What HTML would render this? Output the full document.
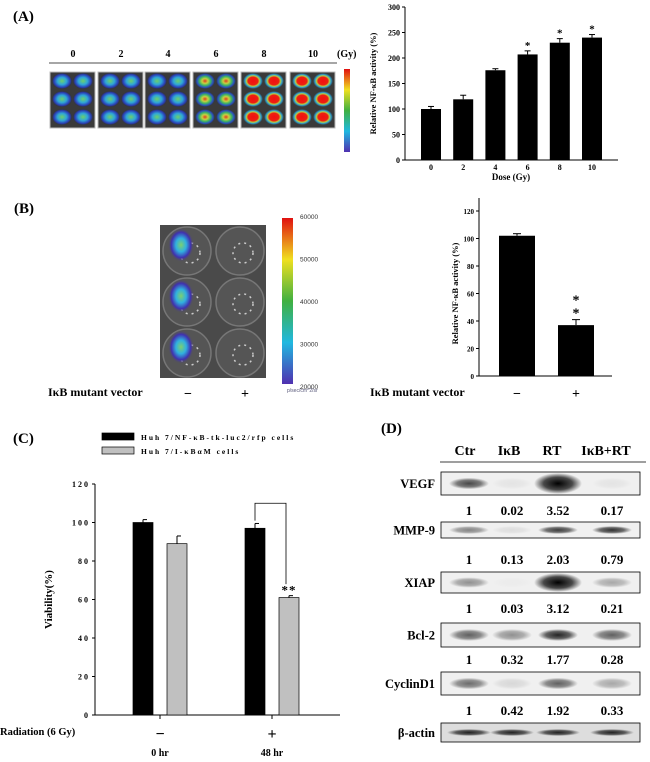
<!DOCTYPE html>
<html><head><meta charset="utf-8">
<style>
html,body{margin:0;padding:0;background:#fff;}
svg{display:block;font-family:"Liberation Serif",serif;}
</style></head>
<body>
<svg id="fig" width="650" height="762" viewBox="0 0 650 762" xmlns="http://www.w3.org/2000/svg">
<defs>
<radialGradient id="wellLow" cx="50%" cy="50%" r="50%"><stop offset="0" stop-color="#6ccf6a"/><stop offset="0.45" stop-color="#2fa8d8"/><stop offset="0.8" stop-color="#2a3fb8"/><stop offset="1" stop-color="#333"/></radialGradient>
<radialGradient id="wellMid" cx="50%" cy="50%" r="50%"><stop offset="0" stop-color="#e03a20"/><stop offset="0.3" stop-color="#c8d040"/><stop offset="0.55" stop-color="#40b860"/><stop offset="0.8" stop-color="#2a50c0"/><stop offset="1" stop-color="#333"/></radialGradient>
<radialGradient id="wellHigh" cx="50%" cy="50%" r="50%"><stop offset="0" stop-color="#f01010"/><stop offset="0.5" stop-color="#ee2010"/><stop offset="0.65" stop-color="#b8d040"/><stop offset="0.8" stop-color="#30a0d0"/><stop offset="1" stop-color="#333"/></radialGradient>
<radialGradient id="wellB" cx="50%" cy="50%" r="50%"><stop offset="0" stop-color="#7cd070"/><stop offset="0.4" stop-color="#30b0e0"/><stop offset="0.75" stop-color="#4030b0"/><stop offset="1" stop-color="#555" stop-opacity="0"/></radialGradient>
<linearGradient id="cbar" x1="0" y1="0" x2="0" y2="1"><stop offset="0" stop-color="#e01010"/><stop offset="0.25" stop-color="#f0e020"/><stop offset="0.5" stop-color="#40b040"/><stop offset="0.75" stop-color="#20b8e0"/><stop offset="1" stop-color="#5030b0"/></linearGradient>
<radialGradient id="band" cx="50%" cy="50%" r="50%"><stop offset="0" stop-color="#000"/><stop offset="0.6" stop-color="#000" stop-opacity="0.7"/><stop offset="1" stop-color="#000" stop-opacity="0"/></radialGradient>
</defs>
<g id="root"></g>
</svg>
<script>
// Panel A data
const doseCats = ["0","2","4","6","8","10"];
const doseVals = [100, 119, 176, 207, 230, 240];
const doseErr = [5, 8, 3, 7, 8, 6];
const doseSig = ["","","","*","*","*"];
const doseTicks = [0,50,100,150,200,250,300];
// Panel B data
const mutCats = ["\u2212","+"];
const mutVals = [102, 37];
const mutErr = [1.5, 4];
const mutTicks = [0,20,40,60,80,100,120];
// Panel C data
const radCats = ["\u2212","+"];
const radSub = ["0 hr","48 hr"];
const seriesNames = ["Huh 7/NF-\u03baB-tk-luc2/rfp cells","Huh 7/I-\u03baB\u03b1M cells"];
const viabBlack = [100, 97];
const viabGray = [89, 61];
const errBlack = [1.5, 2.5];
const errGray = [4, 1];
const viabTicks = [0,20,40,60,80,100,120];
// Panel D data
const laneNames = ["Ctr","I\u03baB","RT","I\u03baB+RT"];
const proteins = ["VEGF","MMP-9","XIAP","Bcl-2","CyclinD1"];
const quant = [["1","0.02","3.52","0.17"],["1","0.13","2.03","0.79"],["1","0.03","3.12","0.21"],["1","0.32","1.77","0.28"],["1","0.42","1.92","0.33"]];
const bandLevels = [[0.7,0.05,1,0.05],[0.45,0.08,0.75,0.8],[0.4,0.02,1,0.3],[0.6,0.4,0.85,0.6],[0.55,0.1,0.6,0.3]];

const NS="http://www.w3.org/2000/svg";
const root=document.getElementById('root');
function el(tag,attrs,parent,text){const e=document.createElementNS(NS,tag);for(const k in attrs)e.setAttribute(k,attrs[k]);if(text!==undefined)e.textContent=text;(parent||root).appendChild(e);return e;}

// ---------- Panel A ----------
let t=el('text',{x:13,y:21,'font-size':15,'font-weight':'bold'},root,'(A)');

const blockX=[50,98,145,193,241,290];
const blockGrad=['wellLow','wellLow','wellLow','wellMid','wellHigh','wellHigh'];
doseCats.forEach((c,i)=>{
  let lt=el('text',{x:blockX[i]+23,y:57,'font-size':10,'font-weight':'bold','text-anchor':'middle'},root,c);
  
  let g=el('g',{});
  
  el('rect',{x:blockX[i],y:72,width:45,height:56,fill:'#3a3a3a',stroke:'#bbb','stroke-width':1},g);
  for(let r=0;r<3;r++)for(let k=0;k<2;k++){
    el('ellipse',{cx:blockX[i]+12+k*21,cy:81+r*18,rx:10,ry:8,fill:'url(#'+blockGrad[i]+')'},g);
  }
});
t=el('text',{x:337,y:57,'font-size':10,'font-weight':'bold'},root,'(Gy)');

t=el('line',{x1:49,y1:63,x2:337,y2:63,stroke:'#888','stroke-width':1.5});

t=el('rect',{x:344,y:69,width:6,height:83,fill:'url(#cbar)'});


function barChart(o){
  const g=el('g',{});
  
  const ys=v=>o.y0-(v-o.min)/(o.max-o.min)*(o.y0-o.y1);
  let ax=el('line',{x1:o.x0,y1:o.axTop,x2:o.x0,y2:o.y0,stroke:'#000','stroke-width':1},g);
  
  ax=el('line',{x1:o.x0,y1:o.y0,x2:o.x1,y2:o.y0,stroke:'#000','stroke-width':1},g);
  
  o.ticks.forEach(v=>{
    el('line',{x1:o.x0-3,y1:ys(v),x2:o.x0,y2:ys(v),stroke:'#000'},g);
    const tl=el('text',{x:o.x0-5,y:ys(v)+3,'font-size':o.tickFont,'font-weight':'bold','text-anchor':'end','letter-spacing':o.ls||0},g,String(v));
    
  });
  const yt=el('text',{transform:`translate(${o.ytx},${(o.y0+o.y1)/2}) rotate(-90)`,'font-size':o.ytFont,'font-weight':'bold','text-anchor':'middle'},g,o.ytitle);
  
  return {g,ys};
}

// Panel A chart
{
  const o={name:'dose-bar-chart',x0:405,x1:618,y0:160,y1:7,axTop:7,min:0,max:300,ticks:doseTicks,tickFont:8,ytx:376,ytFont:8.5,ytitle:'Relative NF-\u03baB activity (%)'};
  const {g,ys}=barChart(o);
  doseCats.forEach((c,i)=>{
    const cx=o.x0+26+i*32.2;
    const b=el('rect',{x:cx-10,y:ys(doseVals[i]),width:20,height:o.y0-ys(doseVals[i]),fill:'#000'},g);
    
    const ey=ys(doseVals[i]+doseErr[i]);
    el('line',{x1:cx,y1:ys(doseVals[i]),x2:cx,y2:ey,stroke:'#000'},g);
    el('line',{x1:cx-3,y1:ey,x2:cx+3,y2:ey,stroke:'#000'},g);
    if(doseSig[i]){const s=el('text',{x:cx,y:ey-2,'font-size':11,'font-weight':'bold','text-anchor':'middle'},g,doseSig[i]);}
    const xl=el('text',{x:cx,y:170,'font-size':8,'font-weight':'bold','text-anchor':'middle'},g,c);
    
  });
  const xt=el('text',{x:511,y:180,'font-size':9,'font-weight':'bold','text-anchor':'middle'},g,'Dose (Gy)');
  
}

// ---------- Panel B ----------
t=el('text',{x:14,y:213,'font-size':15,'font-weight':'bold'},root,'(B)');

{
  const g=el('g',{});
  el('rect',{x:160,y:225,width:106,height:153,fill:'#4a4a4a'},g);
  for(let r=0;r<3;r++)for(let k=0;k<2;k++){
    el('circle',{cx:187+k*53,cy:251+r*51,r:24,fill:'#555',stroke:'#777','stroke-width':1.5},g);
    el('circle',{cx:190+k*53,cy:253+r*51,r:10,fill:'none',stroke:'#ccc','stroke-width':1.5,'stroke-dasharray':'2 4'},g);
  }
  for(let r=0;r<3;r++) el('ellipse',{cx:181,cy:245+r*51,rx:13,ry:17,fill:'url(#wellB)'},g);
  const cb=el('rect',{x:282,y:218,width:11,height:166,fill:'url(#cbar)'});
  
  ["60000","50000","40000","30000","20000"].forEach((s,i)=>{
    const l=el('text',{x:300,y:219+i*42.5,'font-size':6.5,fill:'#333','font-family':'Liberation Sans'},root,s);
    
  });
  const u=el('text',{x:287,y:392,'font-size':5,fill:'#557','font-family':'Liberation Sans'},root,'p/sec/cm^2/sr');
  
}
t=el('text',{x:48,y:396,'font-size':12,'font-weight':'bold'},root,'I\u03baB mutant vector');

t=el('text',{x:188,y:398,'font-size':14,'font-weight':'bold','text-anchor':'middle'},root,'\u2212');

t=el('text',{x:245,y:398,'font-size':14,'font-weight':'bold','text-anchor':'middle'},root,'+');

{
  const o={name:'mutant-bar-chart',x0:479,x1:612,y0:376,y1:211,axTop:198,min:0,max:120,ticks:mutTicks,tickFont:7,ytx:458,ytFont:8.5,ytitle:'Relative NF-\u03baB activity (%)'};
  const {g,ys}=barChart(o);
  const cxs=[517,576];
  mutCats.forEach((c,i)=>{
    const cx=cxs[i];
    const b=el('rect',{x:cx-18,y:ys(mutVals[i]),width:36,height:o.y0-ys(mutVals[i]),fill:'#000'},g);
    
    const ey=ys(mutVals[i]+mutErr[i]);
    el('line',{x1:cx,y1:ys(mutVals[i]),x2:cx,y2:ey,stroke:'#000'},g);
    el('line',{x1:cx-4,y1:ey,x2:cx+4,y2:ey,stroke:'#000'},g);
    const xl=el('text',{x:cx,y:398,'font-size':14,'font-weight':'bold','text-anchor':'middle'},g,c);
    
  });
  const sy=ys(mutVals[1]+mutErr[1]);
  const s=el('text',{x:576,y:sy-15,'font-size':14,'font-weight':'bold','text-anchor':'middle'},g,'*');
  
  const s2=el('text',{x:576,y:sy-2,'font-size':14,'font-weight':'bold','text-anchor':'middle'},g,'*');
  
  const vl=el('text',{x:370,y:396,'font-size':12,'font-weight':'bold'},root,'I\u03baB mutant vector');
  
}

// ---------- Panel C ----------
t=el('text',{x:13,y:443,'font-size':15,'font-weight':'bold'},root,'(C)');

{
  const lg=el('g',{});
  const fills=['#000','#c0c0c0'];
  seriesNames.forEach((s,i)=>{
    const e=el('g',{},lg);
    el('rect',{x:102,y:433+i*14,width:32,height:7,fill:fills[i],stroke:'#000','stroke-width':0.7},e);
    el('text',{x:141,y:440+i*14,'font-size':7.5,'font-weight':'bold','letter-spacing':2},e,s);
  });
  const o={name:'viability-bar-chart',x0:95,x1:340,y0:715,y1:484,axTop:484,min:0,max:120,ticks:viabTicks,tickFont:8,ytx:52,ytFont:11,ytitle:'Viability(%)',ls:2};
  const {g,ys}=barChart(o);
  const centers=[160,272];
  radCats.forEach((c,i)=>{
    const cx=centers[i];
    [[viabBlack,errBlack,'#000',-17,'bar-huh7-nfkb-'],[viabGray,errGray,'#c0c0c0',17,'bar-huh7-ikbam-']].forEach(([vals,errs,f,off,nm])=>{
      const x=cx+off;
      const b=el('rect',{x:x-10,y:ys(vals[i]),width:20,height:o.y0-ys(vals[i]),fill:f,stroke:'#000','stroke-width':0.7},g);
      
      const ey=ys(vals[i]+errs[i]);
      el('line',{x1:x,y1:ys(vals[i]),x2:x,y2:ey,stroke:'#000'},g);
      el('line',{x1:x,y1:ey,x2:x+4,y2:ey,stroke:'#000'},g);
    });
    el('line',{x1:cx,y1:715,x2:cx,y2:719,stroke:'#000'},g);
    const xl=el('text',{x:cx,y:739,'font-size':16,'font-weight':'bold','text-anchor':'middle'},g,c);
    
    const sl=el('text',{x:cx,y:756,'font-size':10,'font-weight':'bold','text-anchor':'middle'},g,radSub[i]);
    
  });
  const br=el('path',{d:`M255 ${ys(101)} V${ys(110)} H286 V${ys(68)}`,fill:'none',stroke:'#000','stroke-width':0.8},g);
  
  const st=el('text',{x:289,y:ys(62)-1,'font-size':13,'font-weight':'bold','text-anchor':'middle','letter-spacing':1},g,'**');
  
  const rl=el('text',{x:0,y:735,'font-size':10.5,'font-weight':'bold'},root,'Radiation (6 Gy)');
  
}

// ---------- Panel D ----------
t=el('text',{x:381,y:433,'font-size':15,'font-weight':'bold'},root,'(D)');

{
  const laneX=[469,512,558,612];
  const headX=[465,509,552,606];
  laneNames.forEach((n,i)=>{
    const l=el('text',{x:headX[i],y:455,'font-size':14,'font-weight':'bold','text-anchor':'middle'},root,n);
    
  });
  t=el('line',{x1:440,y1:462,x2:646,y2:462,stroke:'#666','stroke-width':1.2});
  
  const boxY=[472,522,572,623,672];
  const boxH=[23,16,21,24,23];
  const numY=[515,564,613,664,715];
  proteins.forEach((p,r)=>{
    const g=el('g',{});
    const y=boxY[r],h=boxH[r];
    el('rect',{x:441,y:y,width:199,height:h,fill:'#f0f0f0',stroke:'#000','stroke-width':0.8},g);
    bandLevels[r].forEach((lv,i)=>{
      const big=lv>0.95;
      el('ellipse',{cx:laneX[i],cy:y+h/2,rx:big?24:20,ry:big?h/2-1:h/4,fill:'url(#band)','fill-opacity':lv},g);
    });
    el('text',{x:435,y:y+h/2+4.5,'font-size':12.5,'font-weight':'bold','text-anchor':'end'},g,p);
    quant[r].forEach((q,i)=>{
      const qt=el('text',{x:laneX[i],y:numY[r],'font-size':13,'font-weight':'bold','text-anchor':'middle'},root,q);
      
    });
  });
  const g=el('g',{});
  el('rect',{x:441,y:723,width:199,height:19,fill:'#ddd',stroke:'#000','stroke-width':0.8},g);
  laneX.forEach(x=>el('ellipse',{cx:x,cy:732.5,rx:22,ry:3.5,fill:'url(#band)','fill-opacity':0.85},g));
  el('text',{x:435,y:737,'font-size':12.5,'font-weight':'bold','text-anchor':'end'},g,'\u03b2-actin');
}
</script>
</body></html>
